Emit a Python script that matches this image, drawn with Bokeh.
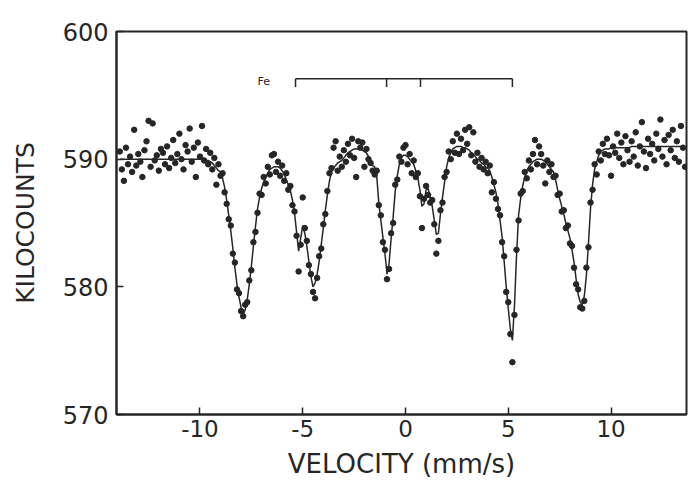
import numpy as np
from bokeh.plotting import figure
from bokeh.models import Range1d, FixedTicker, Label
from bokeh.embed import file_html
from bokeh.resources import INLINE

# ---- data ----
v_start, v_stop = -13.9, 13.6   # velocity of first and last channel (mm/s)

counts = [
    # -13.9 .. -9.6
    590.6, 589.2, 588.3, 590.9, 589.6, 590.2, 589.0, 592.3, 589.5, 590.4,
    589.8, 588.6, 590.7, 591.4, 593.0, 589.4, 592.8, 589.9, 590.3, 589.1,
    590.8, 590.5, 589.6, 591.0, 589.3, 590.1, 591.5, 589.7, 590.4, 592.0,
    590.0, 589.2, 591.1, 590.6, 592.4, 589.8, 590.9, 588.6, 591.3, 590.2,
    592.6, 589.9, 590.8, 589.6,
    # -9.5 .. -6.5
    590.5, 589.2, 590.1, 588.0, 589.6, 588.7, 588.9, 587.4, 586.5, 585.3,
    584.8, 582.6, 581.9, 579.8, 579.5, 578.1, 577.7, 578.6, 578.8, 580.5,
    581.3, 583.5, 584.3, 585.8, 587.3, 587.2, 588.6, 588.1, 589.4, 588.8,
    590.3,
    # -6.4 .. -3.5
    590.4, 589.0, 589.8, 588.7, 589.5, 588.3, 588.9, 587.6, 587.9, 586.4,
    585.9, 584.0, 581.2, 583.3, 587.0, 584.6, 583.6, 581.7, 581.0, 579.6,
    579.1, 580.7, 582.4, 583.0, 584.9, 585.7, 587.5, 588.9, 589.3, 590.9,
    # -3.4 .. -1.6
    591.4, 589.1, 590.2, 589.4, 590.7, 589.8, 591.2, 590.3, 591.6, 590.1,
    588.6, 591.4, 590.9, 591.3, 589.4, 590.8, 590.0, 589.7, 589.1,
    # -1.5 .. -0.1
    588.8, 589.1, 586.4, 585.6, 583.5, 582.9, 580.6, 581.4, 584.2, 585.0,
    588.0, 588.4, 590.2, 589.8, 590.9,
    # 0.0 .. 2.4
    591.1, 589.6, 590.4, 588.9, 589.9, 588.6, 588.9, 587.1, 584.6, 586.9,
    587.9, 587.2, 586.6, 586.8, 584.9, 582.6, 583.6, 586.0, 586.6, 588.6,
    589.0, 590.6, 590.0, 591.4, 590.5,
    # 2.5 .. 4.3
    592.0, 590.4, 591.6, 590.7, 592.3, 591.2, 592.5, 590.3, 592.1, 589.8,
    590.5, 589.4, 590.1, 589.2, 589.8, 588.9, 589.5, 587.4, 588.2,
    # 4.4 .. 6.0
    586.9, 586.1, 585.6, 583.5, 582.4, 579.6, 578.8, 576.3, 574.1, 577.8,
    582.9, 585.2, 587.3, 587.5, 589.0, 588.5, 589.9,
    # 6.1 .. 9.8
    589.2, 590.4, 591.5, 589.6, 591.0, 590.4, 589.5, 588.1, 589.9, 589.0,
    589.6, 588.6, 588.7, 587.2, 587.3, 585.9, 586.0, 584.6, 584.8, 583.4,
    583.2, 581.5, 580.2, 579.8, 578.4, 578.3, 578.9, 581.5, 583.1, 586.6,
    587.6, 589.6, 588.8, 590.6, 589.9, 591.2, 590.4, 591.6,
    # 9.9 .. 13.6
    590.3, 588.7, 591.0, 590.5, 592.0, 590.1, 591.3, 589.6, 591.8, 590.7,
    589.8, 591.4, 590.2, 592.1, 589.5, 591.0, 592.9, 590.6, 589.3, 591.6,
    590.4, 591.2, 589.9, 592.0, 590.8, 593.1, 590.2, 591.5, 589.6, 591.9,
    590.7, 592.3, 590.1, 591.4, 589.8, 592.6, 590.9, 589.4,
]

fit_counts = [
    # -13.9 .. -9.6
    590.0, 590.0, 590.0, 590.0, 590.0, 590.0, 590.0, 590.0, 590.0, 590.0,
    590.0, 590.0, 590.0, 590.0, 590.0, 590.0, 590.0, 590.0, 590.0, 590.0,
    590.0, 590.0, 590.0, 590.0, 590.0, 590.0, 590.0, 590.0, 590.0, 590.0,
    590.0, 590.0, 590.0, 590.0, 590.0, 590.0, 590.0, 590.0, 590.0, 590.0,
    590.0, 590.0, 589.9, 589.9,
    # -9.5 .. -6.5
    589.8, 589.7, 589.5, 589.3, 589.1, 589.0, 588.5, 587.8, 586.8, 585.6,
    584.4, 583.0, 581.5, 580.2, 579.2, 578.4, 577.8, 578.2, 579.0, 580.2,
    581.6, 583.2, 584.7, 586.1, 587.0, 587.7, 588.2, 588.6, 588.9, 589.2,
    589.3,
    # -6.4 .. -3.5
    589.4, 589.4, 589.4, 589.3, 589.1, 588.8, 588.4, 588.0, 587.5, 586.8,
    585.8, 584.3, 582.8, 583.8, 584.8, 584.2, 583.2, 582.0, 580.8, 580.0,
    580.3, 581.0, 582.0, 583.3, 584.6, 586.0, 587.2, 588.3, 589.0, 589.3,
    # -3.4 .. -1.6
    589.5, 589.7, 589.8, 589.9, 590.1, 590.3, 590.5, 590.6, 590.7, 590.8,
    590.8, 590.8, 590.8, 590.7, 590.6, 590.5, 590.2, 589.9, 589.5,
    # -1.5 .. -0.1
    589.4, 588.7, 586.6, 585.2, 583.9, 582.6, 581.0, 581.8, 583.8, 585.5,
    587.5, 588.7, 589.6, 590.1, 590.3,
    # 0.0 .. 2.4
    590.3, 590.2, 590.0, 589.8, 589.6, 589.1, 588.5, 587.6, 586.3, 586.5,
    587.6, 587.7, 587.0, 586.3, 585.2, 584.1, 584.2, 585.7, 587.0, 588.2,
    589.4, 590.1, 590.5, 590.8, 590.9,
    # 2.5 .. 4.3
    591.0, 591.0, 591.0, 590.9, 590.9, 590.8, 590.7, 590.5, 590.4, 590.2,
    590.0, 589.9, 589.7, 589.6, 589.4, 589.3, 589.1, 588.6, 588.0,
    # 4.4 .. 6.0
    587.4, 586.5, 585.2, 583.9, 582.0, 580.0, 578.3, 576.7, 575.8, 578.5,
    582.4, 585.6, 586.9, 587.9, 588.6, 589.1, 589.4,
    # 6.1 .. 9.8
    589.6, 589.8, 589.9, 590.0, 590.0, 590.0, 589.9, 589.8, 589.6, 589.4,
    589.2, 589.0, 588.4, 587.6, 586.9, 586.3, 585.7, 585.0, 584.4, 583.8,
    582.9, 581.9, 580.6, 579.4, 578.8, 578.6, 579.3, 580.9, 583.4, 586.1,
    588.0, 589.2, 589.8, 590.3, 590.6, 590.7, 590.8, 590.8,
    # 9.9 .. 13.6
    590.8, 590.9, 590.9, 590.9, 590.9, 590.9, 590.9, 590.9, 590.9, 590.9,
    590.9, 591.0, 591.0, 591.0, 591.0, 591.0, 591.0, 591.0, 591.0, 591.0,
    591.0, 591.0, 591.0, 591.0, 591.0, 591.0, 591.0, 591.0, 591.0, 591.0,
    591.0, 591.0, 591.0, 591.0, 591.0, 591.0, 591.0, 591.0,
]

# Fe reference line positions (mm/s) shown as a stick bracket
fe_lines = [-5.35, -0.92, 0.73, 5.2]
fe_level = 596.3
fe_tick_len = 0.65
fe_label_pos = (-6.9, 596.1)

x_ticks = [-10, -5, 0, 5, 10]
y_ticks = [570, 580, 590, 600]
x_label = "VELOCITY (mm/s)"
y_label = "KILOCOUNTS"

assert len(counts) == len(fit_counts)
velocity = np.round(np.linspace(v_start, v_stop, len(counts)), 3)

INK = "#262626"
FONT = "DejaVu Sans"

p = figure(width=689, height=482,
           x_range=Range1d(-14.06, 13.67), y_range=Range1d(570, 600),
           output_backend="svg", toolbar_location=None,
           min_border_left=116, min_border_right=3,
           min_border_top=31, min_border_bottom=68,
           x_axis_label=x_label, y_axis_label=y_label)
p.background_fill_color = "white"
p.border_fill_color = "white"
p.grid.visible = False
p.outline_line_color = INK
p.outline_line_width = 2

for ax in (p.xaxis[0], p.yaxis[0]):
    ax.axis_line_color = INK
    ax.axis_line_width = 2
    ax.major_tick_in = 7
    ax.major_tick_out = 0
    ax.major_tick_line_color = INK
    ax.major_tick_line_width = 1.5
    ax.minor_tick_line_color = None
    ax.major_label_text_font = FONT
    ax.major_label_text_color = INK
    ax.axis_label_text_font = FONT
    ax.axis_label_text_font_style = "normal"
    ax.axis_label_text_color = INK

p.xaxis.ticker = FixedTicker(ticks=x_ticks)
p.yaxis.ticker = FixedTicker(ticks=y_ticks)
p.xaxis.major_label_overrides = {t: str(t) for t in x_ticks}
p.yaxis.major_label_overrides = {t: str(t) for t in y_ticks}
p.xaxis.major_label_text_font_size = "23px"
p.yaxis.major_label_text_font_size = "24px"
p.xaxis.major_label_standoff = 5
p.yaxis.major_label_standoff = 8
p.xaxis.axis_label_text_font_size = "26px"
p.xaxis.axis_label_standoff = 9
p.yaxis.axis_label_text_font_size = "25px"
p.yaxis.axis_label_standoff = 20

# fit curve and data points
p.line(velocity, fit_counts, line_color=INK, line_width=1.5)
p.scatter(velocity, counts, size=5.5, fill_color=INK, line_color=INK)

# Fe stick bracket
p.segment(x0=[min(fe_lines)], y0=[fe_level], x1=[max(fe_lines)], y1=[fe_level],
          line_color=INK, line_width=1.5)
p.segment(x0=fe_lines, y0=[fe_level] * len(fe_lines), x1=fe_lines,
          y1=[fe_level - fe_tick_len] * len(fe_lines), line_color=INK, line_width=1.5)
p.add_layout(Label(x=fe_label_pos[0], y=fe_label_pos[1], text="Fe",
                   text_font=FONT, text_font_size="11px", text_color=INK,
                   text_align="center", text_baseline="middle"))

open("out.html", "w").write(file_html(p, INLINE))
